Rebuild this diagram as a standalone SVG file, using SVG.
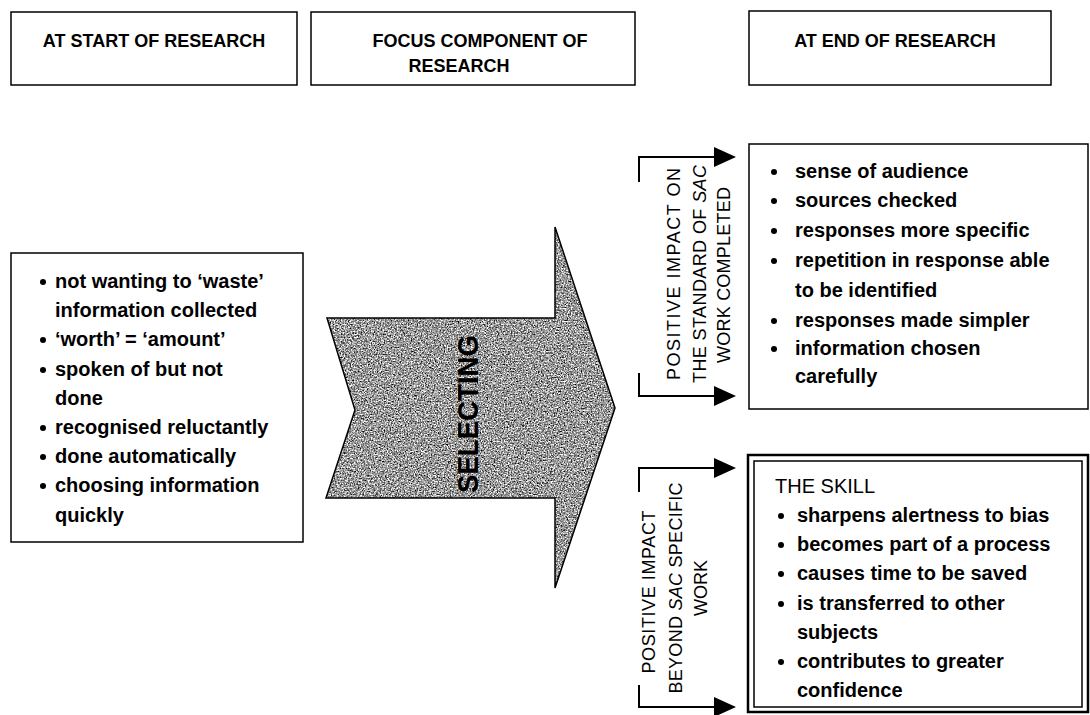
<svg xmlns="http://www.w3.org/2000/svg" width="1090" height="715" viewBox="0 0 1090 715">
<style>
.box{fill:#fff;stroke:#000;stroke-width:1.5}
.hdr{font-family:"Liberation Sans",Arial,sans-serif;font-weight:bold;font-size:18px;fill:#000}
.t{font-family:"Liberation Sans",Arial,sans-serif;font-weight:bold;font-size:20px;fill:#000}
.tr{font-family:"Liberation Sans",Arial,sans-serif;font-size:20px;fill:#000}
.rot{font-family:"Liberation Sans",Arial,sans-serif;font-size:18px;fill:#000;text-anchor:middle}
.dot{fill:#000}
.conn{fill:none;stroke:#000;stroke-width:2}
</style>
<defs>
<marker id="ah" markerUnits="userSpaceOnUse" markerWidth="22" markerHeight="20" refX="0" refY="10" orient="auto">
<path d="M0,0 L22,10 L0,20 z" fill="#000"/>
</marker>
<filter id="grain" x="0" y="0" width="100%" height="100%" color-interpolation-filters="sRGB">
<feTurbulence type="fractalNoise" baseFrequency="0.7" numOctaves="3" seed="4" result="n"/>
<feColorMatrix in="n" type="matrix" values="1 1 1 0 -0.9  1 1 1 0 -0.9  1 1 1 0 -0.9  0 0 0 0 1" result="g"/>
<feComposite in="g" in2="SourceGraphic" operator="in"/>
</filter>
</defs>

<g id="header-start">
<rect class="box" x="11" y="12" width="286" height="73"/>
<text class="hdr" x="154" y="47" text-anchor="middle">AT START OF RESEARCH</text>
</g>
<g id="header-focus">
<rect class="box" x="311" y="12" width="324" height="73"/>
<text class="hdr" x="480" y="47" text-anchor="middle">FOCUS COMPONENT OF</text>
<text class="hdr" x="459" y="72" text-anchor="middle">RESEARCH</text>
</g>
<g id="header-end">
<rect class="box" x="749" y="11" width="302" height="74"/>
<text class="hdr" x="895" y="47" text-anchor="middle">AT END OF RESEARCH</text>
</g>

<g id="start-list">
<rect class="box" x="11" y="253" width="292" height="289"/>
<circle class="dot" cx="43" cy="282" r="3"/>
<text class="t" x="55" y="288">not wanting to ‘waste’</text>
<text class="t" x="55" y="317">information collected</text>
<circle class="dot" cx="43" cy="340" r="3"/>
<text class="t" x="55" y="346">‘worth’ = ‘amount’</text>
<circle class="dot" cx="43" cy="370" r="3"/>
<text class="t" x="55" y="376">spoken of but not</text>
<text class="t" x="55" y="405">done</text>
<circle class="dot" cx="43" cy="428" r="3"/>
<text class="t" x="55" y="434">recognised reluctantly</text>
<circle class="dot" cx="43" cy="457" r="3"/>
<text class="t" x="55" y="463">done automatically</text>
<circle class="dot" cx="43" cy="486" r="3"/>
<text class="t" x="55" y="492">choosing information</text>
<text class="t" x="55" y="522">quickly</text>
</g>

<g id="selecting-arrow">
<polygon points="327,318 555,318 555,227 615,408 555,588 555,498 326,498 355,410" fill="#fff" filter="url(#grain)"/>
<polygon points="327,318 555,318 555,227 615,408 555,588 555,498 326,498 355,410" fill="none" stroke="#000" stroke-width="1.5"/>
<text transform="translate(478,414) rotate(-90)" x="0" y="0" text-anchor="middle" font-family="Liberation Sans, Arial, sans-serif" font-weight="bold" font-size="29" textLength="158" lengthAdjust="spacingAndGlyphs" fill="#000">SELECTING</text>
</g>

<g id="connectors">
<path class="conn" d="M639,182 V157 H714" marker-end="url(#ah)"/>
<path class="conn" d="M639,373 V396 H714" marker-end="url(#ah)"/>
<path class="conn" d="M639,492 V468 H714" marker-end="url(#ah)"/>
<path class="conn" d="M639,685 V707 H714" marker-end="url(#ah)"/>
</g>

<g id="label-sac-work">
<text class="rot" transform="translate(680,274) rotate(-90)" textLength="212">POSITIVE IMPACT ON</text>
<text class="rot" transform="translate(706,274) rotate(-90)" textLength="218">THE STANDARD OF <tspan font-style="italic">SAC</tspan></text>
<text class="rot" transform="translate(730,275) rotate(-90)" textLength="176">WORK COMPLETED</text>
</g>

<g id="label-beyond-sac">
<text class="rot" transform="translate(655,592) rotate(-90)" textLength="163">POSITIVE IMPACT</text>
<text class="rot" transform="translate(682,588) rotate(-90)" textLength="211">BEYOND <tspan font-style="italic">SAC</tspan> SPECIFIC</text>
<text class="rot" transform="translate(707,588) rotate(-90)">WORK</text>
</g>

<g id="end-list">
<rect class="box" x="749" y="144" width="339" height="265"/>
<circle class="dot" cx="774" cy="172" r="3"/>
<text class="t" x="795" y="178">sense of audience</text>
<circle class="dot" cx="774" cy="201" r="3"/>
<text class="t" x="795" y="207">sources checked</text>
<circle class="dot" cx="774" cy="231" r="3"/>
<text class="t" x="795" y="237">responses more specific</text>
<circle class="dot" cx="774" cy="261" r="3"/>
<text class="t" x="795" y="267">repetition in response able</text>
<text class="t" x="795" y="297">to be identified</text>
<circle class="dot" cx="774" cy="321" r="3"/>
<text class="t" x="795" y="327">responses made simpler</text>
<circle class="dot" cx="774" cy="349" r="3"/>
<text class="t" x="795" y="355">information chosen</text>
<text class="t" x="795" y="383">carefully</text>
</g>

<g id="skill-box">
<rect x="748" y="455" width="340" height="257" fill="#fff" stroke="#000" stroke-width="2.5"/>
<rect x="754" y="461" width="328" height="246" fill="none" stroke="#000" stroke-width="1.5"/>
<text class="tr" x="775" y="493">THE SKILL</text>
<circle class="dot" cx="781" cy="516" r="3"/>
<text class="t" x="797" y="522">sharpens alertness to bias</text>
<circle class="dot" cx="781" cy="545" r="3"/>
<text class="t" x="797" y="551">becomes part of a process</text>
<circle class="dot" cx="781" cy="574" r="3"/>
<text class="t" x="797" y="580">causes time to be saved</text>
<circle class="dot" cx="781" cy="604" r="3"/>
<text class="t" x="797" y="610">is transferred to other</text>
<text class="t" x="797" y="639">subjects</text>
<circle class="dot" cx="781" cy="662" r="3"/>
<text class="t" x="797" y="668">contributes to greater</text>
<text class="t" x="797" y="697">confidence</text>
</g>
</svg>
